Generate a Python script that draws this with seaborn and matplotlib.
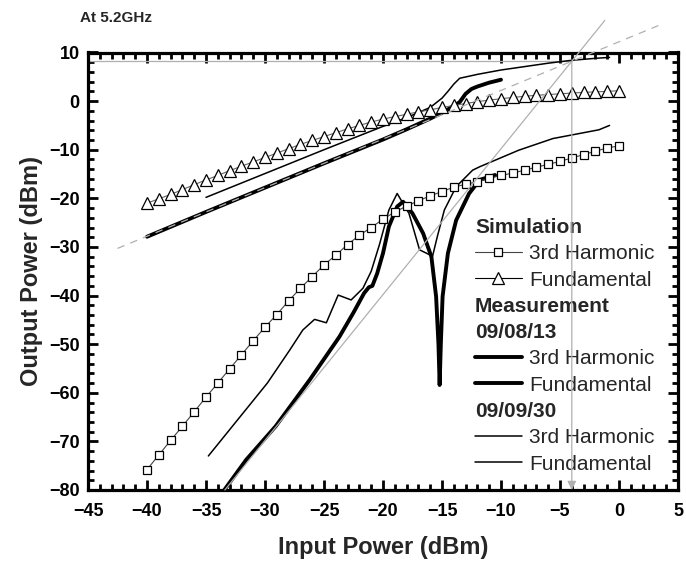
import numpy as np
import pandas as pd
import matplotlib
matplotlib.use("Agg")
import matplotlib.pyplot as plt
from matplotlib.lines import Line2D
import seaborn as sns

# ---------------- data ----------------
sim_x = list(range(-40, 1))
sim_h3 = [-75.8, -72.8, -69.8, -66.9, -63.9, -60.9, -58.0, -55.1, -52.2, -49.3,
          -46.5, -43.9, -41.1, -38.5, -36.1, -33.7, -31.7, -29.5, -27.6, -26.0,
          -24.3, -22.8, -21.6, -20.5, -19.5, -18.6, -17.7, -17.1, -16.6, -15.9,
          -15.3, -14.8, -14.2, -13.6, -13.0, -12.4, -11.7, -11.0, -10.3, -9.65, -9.2]
sim_fund = [-21.0, -20.1, -19.2, -18.2, -17.2, -16.2, -15.3, -14.3, -13.4, -12.5,
            -11.6, -10.7, -9.8, -8.9, -8.1, -7.3, -6.5, -5.7, -5.0, -4.3,
            -3.7, -3.2, -2.7, -2.2, -1.8, -1.3, -0.9, -0.5, -0.1, 0.2,
            0.5, 0.75, 1.0, 1.2, 1.35, 1.5, 1.65, 1.8, 1.9, 2.0, 2.15]

# measurement 09/08/13 (thick)
m1_fund_x = [-40, -35, -30, -25, -20, -18, -16, -15, -14, -13.5, -13, -12.5, -12, -11, -10]
m1_fund_y = [-27.9, -22.8, -17.8, -12.8, -7.9, -5.8, -3.6, -2.4, -1.0, -0.2, 1.5, 2.5, 3.0, 3.8, 4.4]
m1_h3_x = [-33.45, -31.6, -29.1, -26.2, -23.7, -22.5, -21.6, -21.2, -20.9, -20.5, -20.0, -19.5,
           -18.8, -18.3, -17.5, -16.6, -15.9, -15.5, -15.3, -15.2, -15.1, -14.95, -14.5,
           -13.8, -12.7, -11.8, -10.5]
m1_h3_y = [-80.0, -73.8, -66.9, -57.3, -48.5, -43.5, -39.5, -38.3, -38.0, -35.5, -31.3, -25.8,
           -21.7, -20.7, -23.1, -27.2, -32.0, -40.2, -50.0, -58.4, -50.0, -40.2, -31.3,
           -24.5, -19.0, -16.2, -15.2]

# measurement 09/09/30 (thin)
m2_fund_x = [-35, -30, -25, -20, -18, -16, -15, -14.5, -14, -13.5, -12, -10, -8, -6, -4, -2, -0.8]
m2_fund_y = [-19.8, -14.9, -10.0, -5.2, -3.4, -1.3, 0.6, 2.0, 3.5, 4.7, 5.5, 6.4, 7.1, 7.8, 8.4, 8.8, 9.0]
m2_h3_x = [-34.8, -32, -29.8, -27.9, -26.8, -25.8, -24.8, -23.8, -22.7, -21.7, -21.0, -20.3,
           -19.5, -18.8, -17.8, -16.9, -15.8, -15.4, -14.8, -13.8, -12.4, -11.8, -8.5, -5.6,
           -1.7, -0.8]
m2_h3_y = [-73.0, -64.6, -58.0, -51.2, -47.1, -44.9, -45.6, -39.9, -40.9, -38.5, -35.0, -29.5,
           -22.4, -19.0, -23.1, -30.6, -31.9, -27.9, -22.4, -17.6, -14.2, -13.5, -10.1, -7.7,
           -5.9, -5.0]

# grey reference lines
ref1_x = [-42.5, 3.7]          # slope-1 extrapolation (dashed)
ref1_y = [-30.3, 15.9]
ref3_x = [-33.4, -1.2]         # slope-3 extrapolation
ref3_y = [-80.0, 16.6]
ip_x, ip_y = -4.0, 8.2         # intercept point

xticks = list(range(-45, 6, 5))
yticks = list(range(-80, 11, 10))

# ---------------- style ----------------
sns.set_theme(style="ticks")
plt.rcParams['font.family'] = ['Liberation Sans', 'DejaVu Sans']

fig = plt.figure(figsize=(6.86, 5.65), dpi=100)
ax = fig.add_axes([88 / 686, 1 - 490 / 565, 590 / 686, 437.5 / 565])

grey = '#b0b0b0'

# grey reference lines
ax.plot([-45, ip_x], [ip_y, ip_y], color=grey, lw=0.9, zorder=1)
sns.lineplot(x=ref3_x, y=ref3_y, ax=ax, color=grey, lw=0.9, clip_on=False, zorder=6)

# simulation
sns.lineplot(x=sim_x, y=sim_h3, ax=ax, color='#444444', lw=0.8, marker='s', markersize=5.5,
             markerfacecolor='white', markeredgecolor='black', markeredgewidth=0.9, zorder=4)
sns.lineplot(x=sim_x, y=sim_fund, ax=ax, color='#666666', lw=0.8, marker='^', markersize=8.5,
             markerfacecolor='white', markeredgecolor='black', markeredgewidth=0.9, zorder=4)

# measurement 09/08/13 (thick)
sns.lineplot(x=m1_fund_x, y=m1_fund_y, ax=ax, color='black', lw=2.8, sort=False, estimator=None, zorder=3)
sns.lineplot(x=m1_h3_x, y=m1_h3_y, ax=ax, color='black', lw=2.8, sort=False, estimator=None, zorder=3)

# measurement 09/09/30 (thin)
sns.lineplot(x=m2_fund_x, y=m2_fund_y, ax=ax, color='black', lw=1.1, sort=False, estimator=None, zorder=3)
sns.lineplot(x=m2_h3_x, y=m2_h3_y, ax=ax, color='black', lw=1.1, sort=False, estimator=None, zorder=3)

# dashed extrapolation on top
sns.lineplot(x=ref1_x, y=ref1_y, ax=ax, color=grey, lw=0.9, dashes=False, clip_on=False, zorder=6)
ax.lines[-1].set_linestyle((0, (6, 5)))

# vertical arrow from intercept to x axis
ax.annotate('', xy=(ip_x, -80), xytext=(ip_x, ip_y),
            arrowprops=dict(arrowstyle='-|>', color=grey, lw=0.9, mutation_scale=13,
                            shrinkA=0, shrinkB=0), zorder=6)

ax.set_xlim(-45, 5)
ax.set_ylim(-80, 10)
ax.set_xticks(xticks)
ax.set_yticks(yticks)
ax.set_xticks(np.arange(-45, 6, 1), minor=True)
ax.set_yticks(np.arange(-80, 11, 2), minor=True)
ax.tick_params(which='both', direction='in', top=True, right=True, width=2, colors='black')
ax.tick_params(which='major', length=7)
ax.tick_params(which='minor', length=4)
ax.tick_params(axis='x', which='major', pad=9)
ax.tick_params(axis='y', which='major', pad=6)
for lab in ax.get_xticklabels() + ax.get_yticklabels():
    lab.set_fontweight('bold')
    lab.set_fontsize(13)
for s in ax.spines.values():
    s.set_linewidth(2.3)
    s.set_color('black')

ax.set_xlabel('Input Power (dBm)', fontsize=17, fontweight='bold', labelpad=12)
ax.set_ylabel('Output Power (dBm)', fontsize=17, fontweight='bold', labelpad=4)

fig.text(80 / 686, 1 - 18 / 565, 'At 5.2GHz', fontsize=11, fontweight='bold', ha='left', va='center')

# legend
blank = Line2D([], [], linestyle='none')
handles = [
    blank,
    Line2D([], [], color='#444444', lw=0.8, marker='s', markersize=5.5, markerfacecolor='white',
           markeredgecolor='black', markeredgewidth=0.9),
    Line2D([], [], color='black', lw=0.8, marker='^', markersize=8.5, markerfacecolor='white',
           markeredgecolor='black', markeredgewidth=0.9),
    blank, blank,
    Line2D([], [], color='black', lw=2.8),
    Line2D([], [], color='black', lw=2.8),
    blank,
    Line2D([], [], color='black', lw=1.1),
    Line2D([], [], color='black', lw=1.1),
]
labels = ['Simulation', '3rd Harmonic', 'Fundamental', 'Measurement', '09/08/13',
          '3rd Harmonic', 'Fundamental', '09/09/30', '3rd Harmonic', 'Fundamental']
fs = 15
hl, htp = 2.25, 0.35
leg = ax.legend(handles, labels, loc='upper left', bbox_to_anchor=((475 - 88) / 590, (490 - 218) / 437.5),
                frameon=False, fontsize=fs, handlelength=hl, handletextpad=htp,
                labelspacing=0.35, borderpad=0, borderaxespad=0, numpoints=1)
shift = (hl + htp) * fs * 100 / 72
for i in (0, 3, 4, 7):
    t = leg.get_texts()[i]
    t.set_fontweight('bold')
    t.set_x(-shift)

fig.savefig('out.png', dpi=100)
